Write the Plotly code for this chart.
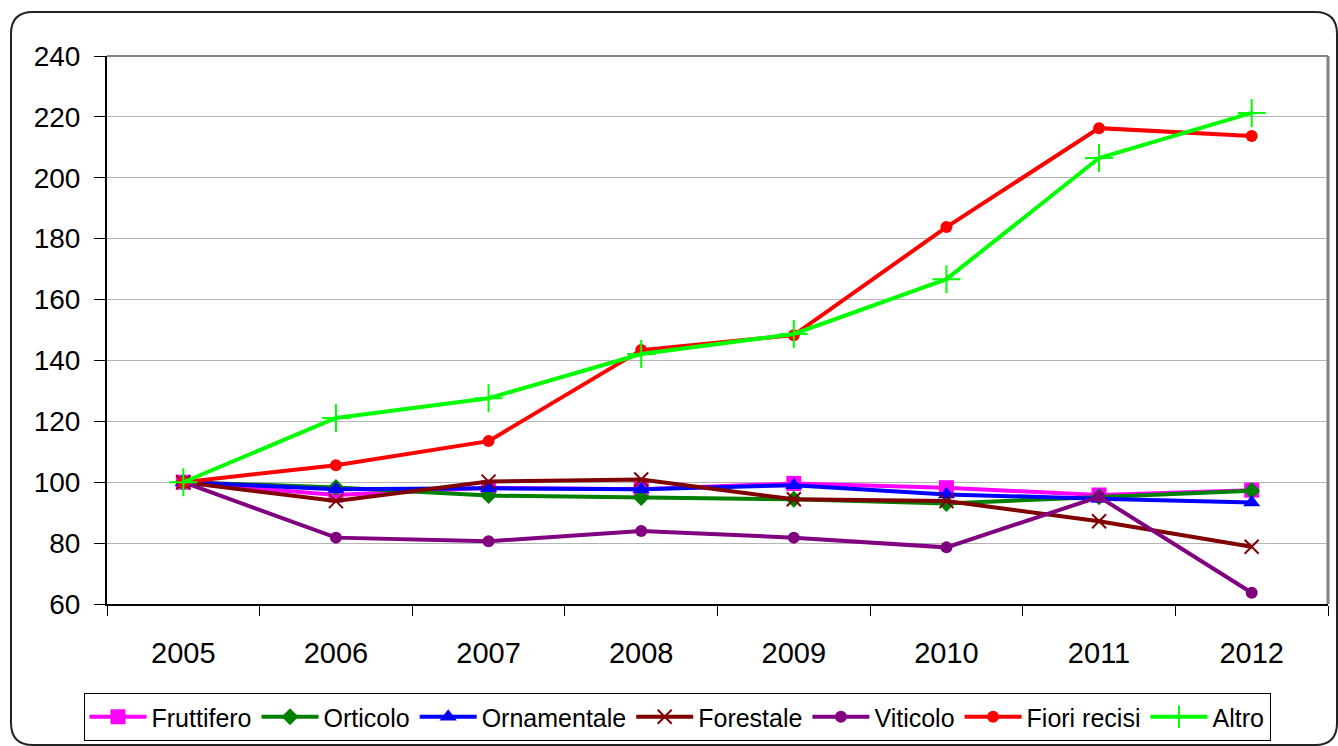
import plotly.graph_objects as go

# Indici annuali (2005 = 100) per tipologia
anni = ["2005", "2006", "2007", "2008", "2009", "2010", "2011", "2012"]

fruttifero = [100.0, 95.8, 98.2, 97.7, 99.6, 98.2, 95.8, 97.4]
orticolo = [100.0, 98.3, 95.6, 95.0, 94.4, 93.0, 95.2, 97.2]
ornamentale = [100.0, 97.7, 98.0, 97.7, 99.0, 96.0, 94.6, 93.3]
forestale = [100.0, 93.8, 100.2, 100.9, 94.4, 93.8, 87.2, 78.8]
viticolo = [100.0, 81.8, 80.6, 84.0, 81.8, 78.6, 95.2, 63.7]
fiori_recisi = [100.0, 105.6, 113.5, 143.4, 148.3, 183.8, 216.3, 213.7]
altro = [100.0, 121.1, 127.6, 142.1, 148.7, 166.7, 206.5, 221.3]

y_ticks = [60, 80, 100, 120, 140, 160, 180, 200, 220, 240]

series = [
    ("Fruttifero", fruttifero, "#FF00FF", "square", 15, 0),
    ("Orticolo", orticolo, "#008000", "diamond", 13, 0),
    ("Ornamentale", ornamentale, "#0000FF", "triangle-up", 15, 0),
    ("Forestale", forestale, "#800000", "x-thin", 14, 2),
    ("Viticolo", viticolo, "#800080", "circle", 12, 0),
    ("Fiori recisi", fiori_recisi, "#FF0000", "circle", 12, 0),
    ("Altro", altro, "#00FF00", "cross-thin", 20, 2),
]

fig = go.Figure()
for name, vals, color, symbol, size, lw in series:
    fig.add_trace(go.Scatter(
        x=anni, y=vals, name=name, mode="lines+markers",
        line=dict(color=color, width=4),
        marker=dict(symbol=symbol, size=size, color=color,
                    line=dict(color=color, width=lw)),
    ))

# Plot-area geometry (pixels) used to place the outer rounded frame
L, R, T, B = 107, 1328, 56, 604
W, H = R - L, B - T


def px(x):
    return (x - L) / W


def py(y):
    return (B - y) / H


fx0, fx1, fy0, fy1, r = 11, 1337, 12, 745, 22
frame = (
    f"M {px(fx0 + r)} {py(fy0)} L {px(fx1 - r)} {py(fy0)} "
    f"Q {px(fx1)} {py(fy0)} {px(fx1)} {py(fy0 + r)} "
    f"L {px(fx1)} {py(fy1 - r)} Q {px(fx1)} {py(fy1)} {px(fx1 - r)} {py(fy1)} "
    f"L {px(fx0 + r)} {py(fy1)} Q {px(fx0)} {py(fy1)} {px(fx0)} {py(fy1 - r)} "
    f"L {px(fx0)} {py(fy0 + r)} Q {px(fx0)} {py(fy0)} {px(fx0 + r)} {py(fy0)} Z"
)

fig.update_layout(
    width=1338, height=746,
    margin=dict(l=L, r=1338 - R, t=T, b=746 - B, autoexpand=False),
    paper_bgcolor="white", plot_bgcolor="white",
    font=dict(family="Liberation Sans, Arial, sans-serif", color="black"),
    showlegend=True,
    legend=dict(
        orientation="h", x=px(677), xanchor="center", y=py(693), yanchor="top",
        font=dict(size=25, color="black"),
        bordercolor="#000000", borderwidth=1, bgcolor="white",
        itemwidth=57, traceorder="normal",
    ),
    xaxis=dict(
        type="category", range=[-0.5, 7.5], tickson="boundaries",
        ticks="outside", ticklen=10, tickcolor="#000000", tickwidth=1,
        showline=True, linecolor="#000000", linewidth=2, mirror=False,
        showgrid=False, tickfont=dict(size=29), ticklabelstandoff=22,
        automargin=False,
    ),
    yaxis=dict(
        range=[60, 240], tickvals=y_ticks,
        ticks="outside", ticklen=11, tickcolor="#000000", tickwidth=1,
        showline=True, linecolor="#000000", linewidth=2,
        showgrid=True, gridcolor="#B4B4B4", gridwidth=1,
        zeroline=False, tickfont=dict(size=28), ticklabelstandoff=8,
        automargin=False,
    ),
    shapes=[
        # plot-area border on top and right
        dict(type="line", xref="paper", yref="paper", x0=0, x1=1, y0=1, y1=1,
             line=dict(color="#808080", width=2)),
        dict(type="line", xref="paper", yref="paper", x0=1, x1=1, y0=0, y1=1,
             line=dict(color="#808080", width=3)),
        dict(type="path", xref="paper", yref="paper", path=frame,
             line=dict(color="#222222", width=2), layer="below"),
    ],
)

fig.write_html("out.html")
